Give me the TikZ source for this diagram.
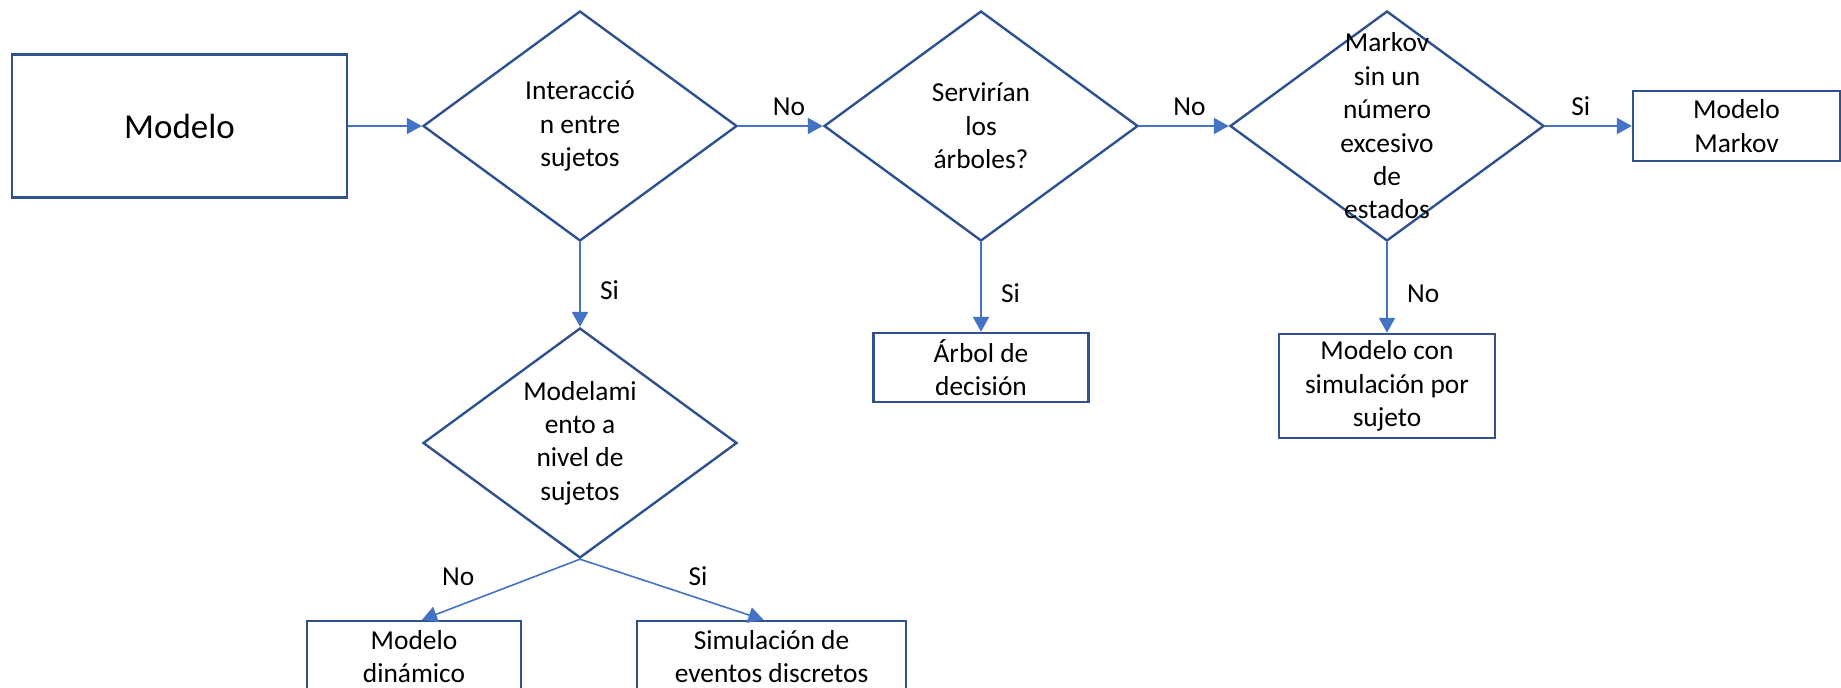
\documentclass[tikz,border=0pt]{standalone}
\usepackage{fontspec}
\setmainfont{Carlito}
\usetikzlibrary{shapes.geometric,arrows.meta}
\definecolor{shapeline}{RGB}{47,82,143}
\definecolor{arrowline}{RGB}{68,114,196}

\begin{document}
\begin{tikzpicture}[x=0.5pt, y=-0.5pt,
        every node/.style={font=\fontsize{13.7pt}{16.7pt}\selectfont},
        box/.style={draw=shapeline, line width=1.2pt, align=center, inner sep=0pt},
        decision/.style={diamond, draw=shapeline, line width=1.2pt,
            minimum width=157pt, minimum height=115pt, inner sep=0pt},
        flow/.style={draw=arrowline, line width=1.1pt, -{Triangle[length=7.5pt, width=8pt]}},
        answer/.style={inner sep=1.5pt}]
            \useasboundingbox (0,0) rectangle (1841,688);

            % first row
            \node[box, minimum width=167.5pt, minimum height=71.5pt,
                font=\fontsize{17.5pt}{21pt}\selectfont] (modelo) at (179.5,126) {Modelo};
            \node[decision, label={[align=center]center:{Interacció\\n entre\\sujetos}}] (interaccion) at (580,126) {};
            \node[decision, label={[align=center]center:{Servirían\\los\\árboles?}}] (arboles) at (981,126) {};
            \node[decision, label={[align=center]center:{Markov\\sin un\\número\\excesivo\\de\\estados}}] (markov) at (1387,126) {};
            \node[box, minimum width=103.5pt, minimum height=35pt] (modmarkov) at (1736.5,126) {Modelo\\Markov};

            % lower rows
            \node[decision, label={[align=center]center:{Modelami\\ento a\\nivel de\\sujetos}}] (nivel) at (580,443) {};
            \node[box, minimum width=107.5pt, minimum height=34.5pt] (arbol) at (981,367.5) {Árbol de\\decisión};
            \node[box, minimum width=108pt, minimum height=52pt] (porsujeto) at (1387,386) {Modelo con\\simulación por\\sujeto};
            \node[box, minimum width=107pt, minimum height=35.5pt] (dinamico) at (414,656.5) {Modelo\\dinámico};
            \node[box, minimum width=134.5pt, minimum height=35.5pt] (eventos) at (771.5,656.5) {Simulación de\\eventos discretos};

            \draw[flow] (modelo) -- (interaccion);
            \draw[flow] (interaccion) -- (arboles)
                node[answer, pos=0.6, above=3pt]{No};
            \draw[flow] (arboles) -- (markov)
                node[answer, pos=0.56, above=3pt]{No};
            \draw[flow] (markov) -- (modmarkov)
                node[answer, pos=0.41, above=3pt]{Si};

            \draw[flow] (interaccion) -- (nivel)
                node[answer, pos=0.57, right=8pt]{Si};
            \draw[flow] (arboles) -- (arbol)
                node[answer, pos=0.57, right=8pt]{Si};
            \draw[flow] (markov) -- (porsujeto)
                node[answer, pos=0.57, right=8pt]{No};

            \draw[flow, line width=0.8pt] (nivel.south) -- ([xshift=4pt]dinamico.north)
                node[answer, pos=0.5, above left, xshift=-11.5pt]{No};
            \draw[flow, line width=0.8pt] (nivel.south) -- ([xshift=-4pt]eventos.north)
                node[answer, pos=0.5, above right, xshift=6.5pt]{Si};
        \end{tikzpicture}
\end{document}
